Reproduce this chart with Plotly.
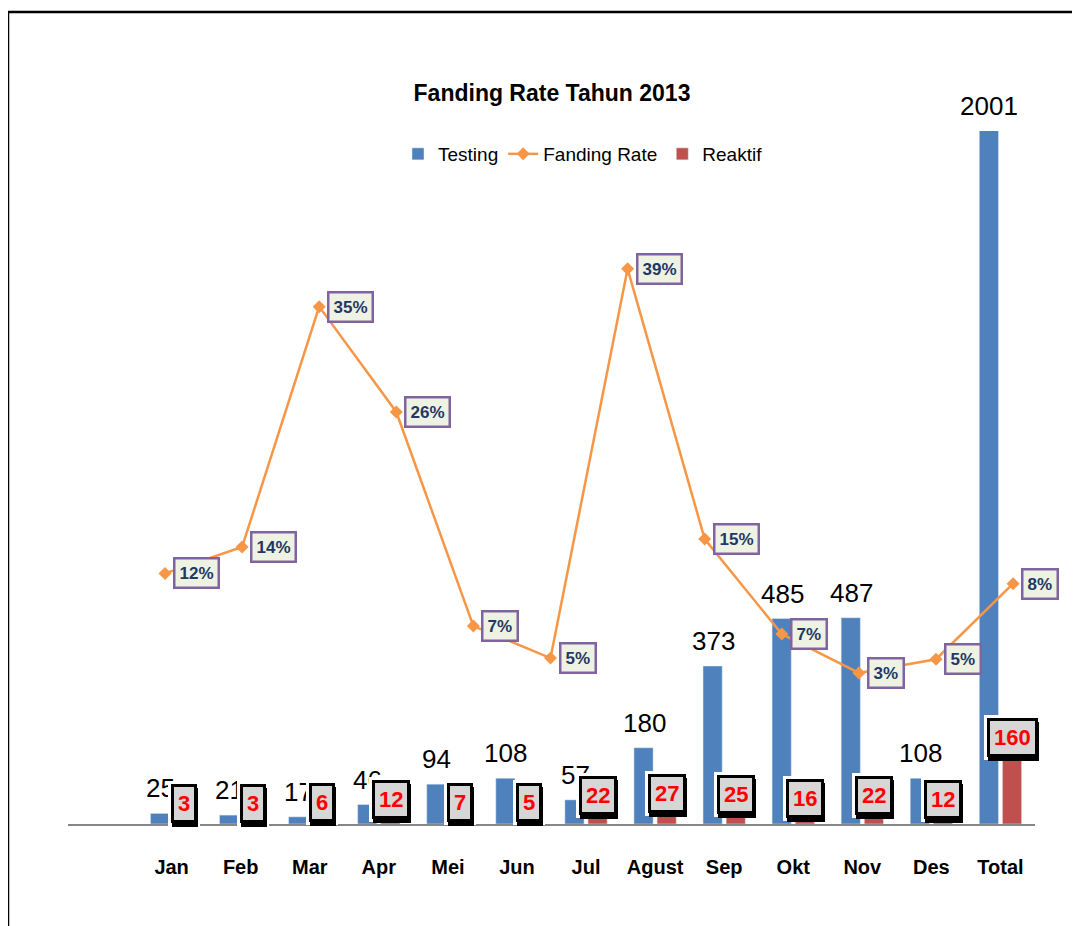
import plotly.graph_objects as go

# ---------------- data ----------------
categories = ["Jan", "Feb", "Mar", "Apr", "Mei", "Jun", "Jul", "Agust", "Sep", "Okt", "Nov", "Des", "Total"]
testing = [25, 21, 17, 46, 94, 108, 57, 180, 373, 485, 487, 108, 2001]
reaktif = [3, 3, 6, 12, 7, 5, 22, 27, 25, 16, 22, 12, 160]
rate_values = [0.12, 0.143, 0.353, 0.261, 0.074, 0.046, 0.386, 0.15, 0.067, 0.033, 0.045, 0.111]
rate_labels = ["12%", "14%", "35%", "26%", "7%", "5%", "39%", "15%", "7%", "3%", "5%", "8%"]

# ---------------- style ----------------
BLUE = "#4F81BD"
RED = "#C0504D"
ORANGE = "#F79646"
PURPLE = "#8064A2"
NAVY = "#1F3864"
NARROW = "Liberation Sans Narrow, Arial Narrow, Arial, sans-serif"
ARIAL = "Arial, Liberation Sans, sans-serif"

Y_MAX = 1636
xs = list(range(len(categories)))
rx = list(range(len(rate_values)))

# the page body adds an 8px offset, so figure pixel = reference pixel - 8
OFF = 8
ML, MT = 68 - OFF, 131 - OFF
PW, PH = 967, 693
MR = 1080 - ML - PW
MB = 926 - MT - PH

fig = go.Figure()
fig.add_trace(go.Bar(x=xs, y=testing, name="Testing", marker_color=BLUE,
                     xaxis="x", yaxis="y"))
fig.add_trace(go.Scatter(x=rx, y=rate_values, name="Fanding Rate", mode="lines+markers",
                         line=dict(color=ORANGE, width=2.5),
                         marker=dict(symbol="diamond", size=10, color=ORANGE),
                         xaxis="x2", yaxis="y2"))
fig.add_trace(go.Bar(x=xs, y=reaktif, name="Reaktif", marker_color=RED,
                     xaxis="x", yaxis="y"))

annotations = []
# Testing value labels (drawn first, so the Reaktif boxes sit on top)
for i, v in enumerate(testing):
    annotations.append(dict(x=i, y=min(v, Y_MAX), xref="x", yref="y", text=str(v),
                            showarrow=False, xshift=-11, yshift=25, yanchor="middle",
                            font=dict(family=NARROW, size=26, color="black")))
# Reaktif boxes: white halo, black shadow, grey box
for i, v in enumerate(reaktif):
    common = dict(x=i, y=v, xref="x", yref="y", text=str(v), showarrow=False,
                  xanchor="center", yanchor="middle",
                  font=dict(family=NARROW, size=22, color="#FF0000", weight="bold"))
    annotations.append(dict(common, xshift=12, yshift=19, bgcolor="white",
                            bordercolor="white", borderwidth=3, borderpad=7,
                            font=dict(family=NARROW, size=22, color="white", weight="bold")))
    annotations.append(dict(common, xshift=13, yshift=15, bgcolor="black",
                            bordercolor="black", borderwidth=3, borderpad=4,
                            font=dict(family=NARROW, size=22, color="black", weight="bold")))
    annotations.append(dict(common, xshift=12, yshift=19, bgcolor="#D6D6D6",
                            bordercolor="black", borderwidth=3, borderpad=4))
# Fanding rate labels
for k, (v, lab) in enumerate(zip(rate_values, rate_labels)):
    annotations.append(dict(x=k, y=v, xref="x2", yref="y2", text=lab, showarrow=False,
                            xanchor="left", yanchor="middle", xshift=8,
                            bgcolor="#EEF2E3", bordercolor=PURPLE, borderwidth=2.5,
                            borderpad=4,
                            font=dict(family=NARROW, size=17, color=NAVY, weight="bold")))

fig.update_layout(
    width=1080, height=926,
    margin=dict(l=ML, r=MR, t=MT, b=MB),
    plot_bgcolor="white", paper_bgcolor="white",
    barmode="group", bargap=0.33, bargroupgap=0.17,
    title=dict(text="<b>Fanding Rate Tahun 2013</b>", x=(552 - OFF) / 1080, xanchor="center",
               y=1 - (93 - OFF) / 926, yanchor="middle", yref="container",
               font=dict(family=ARIAL, size=23, color="black")),
    showlegend=True,
    legend=dict(orientation="h", x=(583 - 68) / PW, xanchor="center",
                y=(824 - 154) / PH, yanchor="middle", bgcolor="rgba(0,0,0,0)",
                font=dict(family=NARROW, size=19, color="black")),
    xaxis=dict(range=[-1.5, 12.5], tickmode="array", tickvals=xs, ticktext=categories,
               showline=True, linecolor="#868686", linewidth=1.5, showgrid=False,
               zeroline=False, ticks="outside", ticklen=24, tickcolor="rgba(0,0,0,0)",
               tickfont=dict(family=ARIAL, size=20, color="black", weight="bold")),
    yaxis=dict(range=[0, Y_MAX], visible=False, showgrid=False, zeroline=False),
    xaxis2=dict(overlaying="x", anchor="y2", range=[-1.258, 11.284], visible=False),
    yaxis2=dict(overlaying="y", anchor="x2", range=[-0.0989, 0.5064], visible=False),
    annotations=annotations,
    shapes=[dict(type="rect", xref="paper", yref="paper",
                 x0=(8 - 68) / PW, x1=1.2, y0=-0.3, y1=(824 - 12) / PH,
                 line=dict(color="black", width=2.5), fillcolor="rgba(0,0,0,0)")],
)

fig.write_html("out.html")
